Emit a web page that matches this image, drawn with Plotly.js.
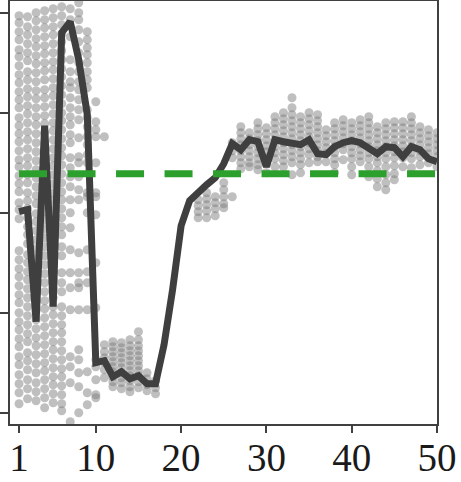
<!DOCTYPE html>
<html>
<head>
<meta charset="utf-8">
<script src="https://cdn.plot.ly/plotly-3.0.1.min.js"></script>
<style>
  html, body { margin: 0; padding: 0; background: #fff; }
  #plot { width: 461px; height: 482px; }
</style>
</head>
<body>
<div id="plot"></div>
<script>
// mean curve, one value per x = 1..50
const xSteps = [1,2,3,4,5,6,7,8,9,10,11,12,13,14,15,16,17,18,19,20,21,22,23,24,25,
                26,27,28,29,30,31,32,33,34,35,36,37,38,39,40,41,42,43,44,45,46,47,48,49,50];
const meanValues = [2.01,2.03,0.91,2.87,1.06,3.80,3.91,3.53,2.98,0.50,
                    0.52,0.36,0.41,0.34,0.37,0.29,0.29,0.68,1.23,1.87,
                    2.12,2.21,2.28,2.35,2.49,2.69,2.63,2.73,2.71,2.46,
                    2.73,2.71,2.70,2.68,2.73,2.59,2.58,2.66,2.70,2.72,
                    2.70,2.64,2.59,2.66,2.65,2.56,2.66,2.63,2.54,2.51];
const referenceLevel = 2.39;

// raw samples, grouped by column (x = 1..10)
const earlyStart = 1;
const earlyCols = [
  [3.97,3.90,3.81,3.73,3.63,3.56,3.47,3.38,3.30,3.21,3.13,3.05,2.95,2.87,2.79,2.71,2.62,2.53,2.46,2.37,2.29,2.21,2.10,2.03,1.94,1.62,1.53,1.44,1.36,1.27,1.18,1.10,1.00,0.91,0.83,0.74,0.66,0.56,0.48,0.38,0.29,0.20,0.09],
  [3.96,3.86,3.78,3.69,3.60,3.52,3.41,3.33,3.24,3.16,3.07,2.99,2.90,2.81,2.73,2.64,2.55,2.47,2.38,2.30,2.20,2.12,2.04,1.95,1.86,1.78,1.69,1.58,1.50,1.41,1.33,1.24,1.15,1.06,0.97,0.88,0.79,0.71,0.60,0.52,0.43,0.33,0.24,0.14],
  [4.00,3.92,3.83,3.74,3.66,3.57,3.49,3.40,3.31,3.22,3.14,3.05,2.96,2.88,2.79,2.70,2.61,2.52,2.43,2.35,2.26,2.17,2.09,1.99,1.91,1.82,1.73,1.64,1.55,1.46,1.37,1.28,1.19,1.11,1.02,0.93,0.84,0.75,0.67,0.58,0.49,0.40,0.30,0.21,0.12],
  [4.02,3.93,3.85,3.76,3.67,3.59,3.50,3.42,3.33,3.23,3.15,3.06,2.97,2.89,2.80,2.62,2.54,2.45,2.36,2.27,2.19,2.10,2.01,1.93,1.84,1.75,1.66,1.57,1.48,1.39,1.30,1.21,1.12,1.04,0.95,0.86,0.77,0.68,0.59,0.50,0.42,0.33,0.24,0.15,0.05],
  [4.04,3.95,3.86,3.78,3.69,3.60,3.51,3.43,3.34,3.25,3.17,3.08,2.99,2.90,2.82,2.73,2.64,2.55,2.47,2.38,2.29,2.20,2.12,2.03,1.94,1.85,1.77,1.68,1.59,1.50,1.41,1.33,1.24,1.15,1.06,0.98,0.89,0.80,0.71,0.63,0.54,0.45,0.36,0.28,0.19,0.10],
  [4.06,3.97,3.88,3.79,3.71,3.62,3.53,3.44,3.36,3.27,3.18,3.09,3.00,2.92,2.83,2.74,2.65,2.57,2.48,2.39,2.30,2.21,2.13,2.04,1.95,1.86,1.78,1.66,1.57,1.40,1.30,1.21,1.06,0.97,0.88,0.80,0.71,0.62,0.53,0.44,0.36,0.27,0.18,0.09,0.02],
  [4.04,3.93,3.76,3.53,3.41,3.31,3.25,3.15,3.05,2.96,2.88,2.78,2.70,2.55,2.45,2.36,2.26,2.13,2.00,1.85,1.63,1.40,1.25,1.03,0.56,0.46,0.30,-0.09],
  [4.10,4.00,3.93,3.83,3.71,3.60,3.50,3.41,3.31,3.23,3.13,3.03,2.93,2.75,2.56,2.50,2.36,2.23,2.13,1.60,1.40,1.30,1.25,1.03,0.63,0.53,0.40,0.26,0.00],
  [3.81,3.73,3.65,3.58,3.50,3.41,3.33,3.25,3.03,2.95,2.86,2.76,2.68,2.58,2.50,2.20,2.16,2.00,1.63,1.41,1.30,1.03,0.41,0.20,0.08],
  [3.11,2.91,2.83,2.76,2.50,2.20,2.16,1.98,1.50,1.05,0.53,0.46,0.33,0.18,0.15]
];

// x = 11..17
const dipStart = 11;
const dipCols = [
  [2.76,0.68,0.61,0.55,0.50,0.43,0.35],
  [0.71,0.66,0.61,0.56,0.51,0.46,0.41,0.36,0.31,0.26],
  [0.70,0.65,0.60,0.55,0.50,0.45,0.40,0.35,0.30,0.24],
  [0.73,0.67,0.62,0.57,0.52,0.47,0.42,0.37,0.32,0.26,0.21],
  [0.81,0.73,0.67,0.62,0.57,0.52,0.47,0.42,0.37,0.31,0.25],
  [0.40,0.34,0.28,0.22],
  [0.32,0.25,0.19]
];

// x = 22..26
const riseStart = 22;
const riseCols = [
  [2.13,2.07,2.01,1.95],
  [2.20,2.14,2.08,2.02,1.95],
  [2.16,2.10,2.04,1.97],
  [2.30,2.23,2.16,2.09,2.05],
  [2.16,2.55,2.62,2.70]
];

// x = 27..50
const plateauStart = 27;
const plateauCols = [
  [2.86,2.80,2.74,2.68,2.62,2.56,2.50,2.44],
  [2.80,2.74,2.68,2.62,2.56,2.50,2.46],
  [2.90,2.84,2.78,2.72,2.66,2.60,2.54,2.48,2.43],
  [2.85,2.79,2.73,2.67,2.61,2.55,2.49,2.40],
  [2.96,2.90,2.84,2.78,2.72,2.66,2.60,2.54,2.46],
  [3.00,2.94,2.88,2.82,2.76,2.70,2.64,2.58,2.52,2.46],
  [3.15,3.05,2.98,2.92,2.86,2.80,2.74,2.68,2.62,2.56,2.50,2.38],
  [2.96,2.90,2.84,2.78,2.72,2.66,2.60,2.54,2.48,2.40],
  [3.00,2.94,2.88,2.82,2.76,2.70,2.64,2.58,2.50],
  [2.98,2.92,2.86,2.80,2.74,2.68,2.62,2.56,2.51],
  [2.83,2.77,2.71,2.65,2.59,2.51],
  [2.90,2.84,2.78,2.72,2.66,2.60,2.54,2.48,2.40],
  [2.93,2.87,2.81,2.75,2.69,2.63,2.53],
  [2.90,2.84,2.78,2.72,2.66,2.60,2.54,2.46,2.38],
  [2.93,2.87,2.81,2.75,2.69,2.63,2.57,2.51],
  [2.96,2.90,2.84,2.78,2.72,2.66,2.60,2.54,2.46,2.36],
  [2.86,2.80,2.74,2.68,2.62,2.56,2.50,2.42,2.34,2.26],
  [2.90,2.84,2.78,2.72,2.66,2.60,2.54,2.46,2.38,2.30,2.23],
  [2.91,2.85,2.79,2.73,2.67,2.61,2.55,2.47,2.39,2.33],
  [2.91,2.85,2.79,2.73,2.67,2.61,2.55,2.46],
  [2.96,2.90,2.84,2.78,2.72,2.66,2.60,2.54,2.45],
  [2.86,2.80,2.74,2.68,2.62,2.56,2.48],
  [2.83,2.77,2.71,2.65,2.59,2.50],
  [2.80,2.74,2.68,2.62,2.56,2.46]
];

const xTicks = [1, 10, 20, 30, 40, 50];
const yTicks = [0, 1, 2, 3, 4];

const ptX = [], ptY = [];
function addCols(cols, start) {
  cols.forEach((vals, i) => {
    vals.forEach(v => { ptX.push(start + i); ptY.push(v); });
  });
}
addCols(earlyCols, earlyStart);
addCols(dipCols, dipStart);
addCols(riseCols, riseStart);
addCols(plateauCols, plateauStart);

const axisColor = '#404040';

const samples = {
  x: ptX, y: ptY,
  type: 'scatter', mode: 'markers',
  marker: { size: 9, color: 'rgba(128,128,128,0.5)', line: { width: 0 } },
  hoverinfo: 'skip', showlegend: false
};
const meanLine = {
  x: xSteps, y: meanValues,
  type: 'scatter', mode: 'lines',
  line: { color: '#3f3f3f', width: 7 },
  showlegend: false
};
const refLine = {
  x: [xSteps[0], xSteps[xSteps.length - 1]],
  y: [referenceLevel, referenceLevel],
  type: 'scatter', mode: 'lines',
  line: { color: '#2ca02c', width: 7, dash: '28px,20.5px' },
  showlegend: false
};

const layout = {
  width: 461, height: 482,
  margin: { l: 10, r: 24, t: 1, b: 58 },
  paper_bgcolor: '#fff', plot_bgcolor: '#fff',
  showlegend: false,
  xaxis: {
    range: [-0.06, 50],
    tickvals: xTicks, ticktext: xTicks.map(String),
    ticks: 'outside', ticklen: 7, tickwidth: 2, tickcolor: axisColor,
    ticklabelstandoff: -9,
    showline: true, linewidth: 2, linecolor: axisColor, mirror: true,
    showgrid: false, zeroline: false,
    tickfont: { family: 'Liberation Serif, Times New Roman, serif', size: 39, color: '#1a1a1a' }
  },
  yaxis: {
    range: [-0.113, 4.117],
    tickvals: yTicks, showticklabels: false,
    ticks: 'outside', ticklen: 8, tickwidth: 2, tickcolor: axisColor,
    showline: true, linewidth: 2, linecolor: axisColor, mirror: true,
    showgrid: false, zeroline: false
  }
};

Plotly.newPlot('plot', [samples, meanLine, refLine], layout, { displayModeBar: false, staticPlot: true });
</script>
</body>
</html>
